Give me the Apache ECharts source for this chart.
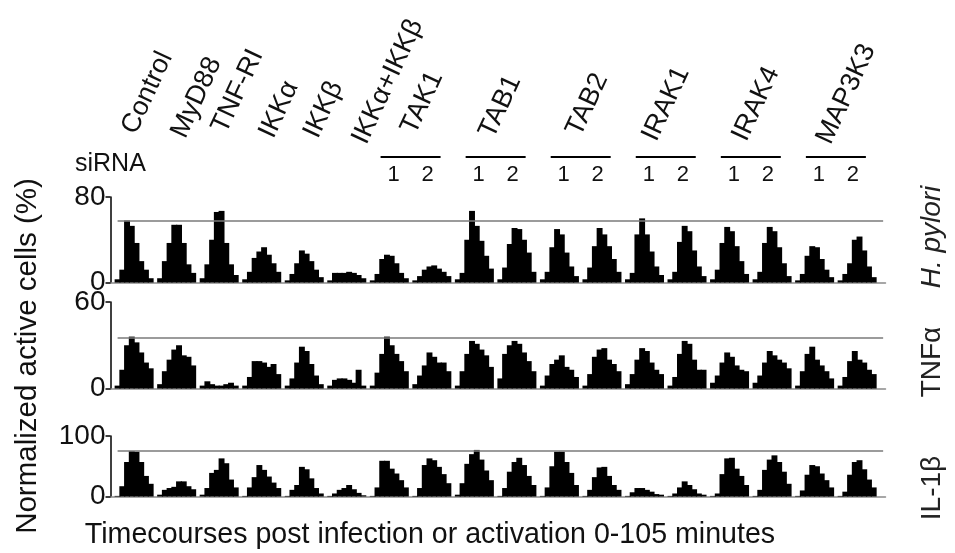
<!DOCTYPE html>
<html>
<head>
<meta charset="utf-8">
<script src="https://cdn.jsdelivr.net/npm/echarts@6/dist/echarts.min.js"></script>
<style>
  html, body { margin: 0; background: #fff; }
  #chart { width: 955px; height: 553px; }
</style>
</head>
<body>
<div id="chart"></div>
<script>
// siRNA conditions, left to right (kinases on the right have two oligos)
const groups = [
  'Control', 'MyD88', 'TNF-RI', 'IKKα', 'IKKβ', 'IKKα+IKKβ',
  'TAK1 1', 'TAK1 2', 'TAB1 1', 'TAB1 2', 'TAB2 1', 'TAB2 2',
  'IRAK1 1', 'IRAK1 2', 'IRAK4 1', 'IRAK4 2', 'MAP3K3 1', 'MAP3K3 2'
];
const singleLabels = ['Control', 'MyD88', 'TNF-RI', 'IKKα', 'IKKβ', 'IKKα+IKKβ'];
const pairLabels   = ['TAK1', 'TAB1', 'TAB2', 'IRAK1', 'IRAK4', 'MAP3K3'];
const oligoLabels  = ['1', '2'];

// stimuli (one row each), axis tops and the control reference level
const stimuli  = ['H. pylori', 'TNFα', 'IL-1β'];
const yTop     = [80, 60, 100];
const refLevel = [58, 35, 75];

// timecourse 0-105 min, 8 points per condition (% active cells)
const hPylori = [
  [3, 12, 58, 53, 37, 20, 12, 4],
  [4, 20, 37, 54, 54, 37, 17, 9],
  [4, 17, 40, 66, 67, 37, 17, 7],
  [3, 10, 23, 29, 33, 26, 18, 10],
  [2, 8, 18, 30, 27, 20, 12, 5],
  [2, 9, 9, 9, 10, 9, 7, 4],
  [2, 8, 22, 26, 25, 18, 9, 4],
  [2, 6, 12, 15, 16, 13, 10, 6],
  [3, 9, 40, 67, 53, 39, 25, 13],
  [3, 14, 36, 51, 50, 40, 28, 10],
  [3, 10, 33, 50, 45, 28, 15, 6],
  [3, 14, 34, 51, 45, 34, 22, 10],
  [3, 9, 45, 60, 45, 29, 15, 7],
  [3, 10, 38, 53, 48, 30, 15, 6],
  [3, 12, 37, 52, 48, 34, 20, 8],
  [3, 10, 37, 52, 48, 33, 18, 6],
  [2, 8, 25, 34, 33, 22, 12, 5],
  [2, 8, 18, 40, 43, 30, 15, 5]
];
const tnfAlpha = [
  [2, 13, 30, 36, 32, 25, 18, 14],
  [3, 12, 20, 27, 30, 23, 22, 16],
  [2, 5, 3, 2, 2, 3, 4, 2],
  [2, 8, 19, 19, 18, 15, 17, 10],
  [2, 7, 18, 29, 26, 17, 9, 3],
  [2, 6, 7, 7, 6, 4, 13, 2],
  [2, 11, 24, 36, 30, 24, 19, 12],
  [3, 9, 16, 25, 22, 18, 18, 12],
  [2, 12, 24, 33, 31, 27, 23, 15],
  [7, 24, 30, 33, 31, 25, 19, 12],
  [2, 9, 17, 20, 23, 15, 13, 8],
  [2, 10, 22, 27, 28, 20, 17, 12],
  [3, 10, 20, 28, 26, 18, 13, 10],
  [2, 8, 24, 33, 31, 20, 13, 13],
  [4, 9, 18, 25, 22, 16, 13, 12],
  [4, 9, 18, 26, 23, 20, 18, 14],
  [2, 12, 24, 29, 20, 16, 12, 7],
  [2, 8, 19, 26, 20, 18, 13, 10]
];
const il1Beta = [
  [1, 17, 57, 75, 74, 57, 34, 21],
  [3, 11, 14, 16, 25, 25, 17, 12],
  [3, 14, 39, 44, 63, 55, 28, 15],
  [1, 15, 32, 52, 44, 33, 23, 14],
  [1, 11, 19, 49, 45, 30, 14, 5],
  [1, 5, 11, 14, 19, 12, 6, 2],
  [1, 15, 59, 59, 46, 38, 27, 15],
  [1, 14, 52, 63, 60, 49, 37, 22],
  [3, 22, 54, 70, 77, 61, 43, 27],
  [1, 14, 41, 57, 64, 52, 34, 19],
  [1, 15, 50, 74, 74, 57, 39, 19],
  [1, 11, 32, 48, 49, 34, 19, 11],
  [1, 7, 14, 14, 11, 8, 4, 3],
  [1, 5, 15, 25, 19, 12, 5, 3],
  [1, 5, 37, 63, 64, 46, 34, 19],
  [1, 11, 44, 61, 68, 57, 41, 21],
  [1, 10, 36, 52, 50, 38, 27, 15],
  [1, 8, 36, 57, 60, 45, 28, 15]
];

// ── layout ──────────────────────────────────────────────
const FONT = "'Liberation Sans', Arial, sans-serif";
const INK = '#111';
const GRID_LEFT = 110.5;
const GRID_W = 775;
const PER_GROUP = 9;                     // one empty slot + 8 time points
const SLOTS = groups.length * PER_GROUP + 2;
const SLOT_W = GRID_W / SLOTS;
const rows = [
  { top: 197, height: 85.5 },
  { top: 302, height: 86.5 },
  { top: 436, height: 60.5 }
];
// offsets of the rotated gene names from their group centre
const labelNudge = [
  [7, 138], [14, 142], [12, 137], [17, 142], [19, 142], [25, 148],
  [10, 138], [3, 142], [5, 140], [-4, 145], [1, 145], [0, 148]
];

const slotNames = Array.from({ length: SLOTS }, (_, i) => String(i));
function flatten(rowData) {
  const out = [];
  rowData.forEach(ts => { out.push(null); ts.forEach(v => out.push(v)); });
  while (out.length < SLOTS) out.push(null);
  return out;
}
const rowData = [hPylori, tnfAlpha, il1Beta];

// pixel centre of a group, or of a pair of groups
const groupX = g => GRID_LEFT + (g * PER_GROUP + 5) * SLOT_W;
const pairX  = g => GRID_LEFT + (g * PER_GROUP + 9.5) * SLOT_W;

const graphic = [];
singleLabels.concat(pairLabels).forEach((name, i) => {
  const cx = i < singleLabels.length ? groupX(i) : pairX(singleLabels.length + (i - singleLabels.length) * 2);
  graphic.push({
    type: 'text', x: cx + labelNudge[i][0], y: labelNudge[i][1],
    rotation: 65 * Math.PI / 180,
    style: { text: name, font: `27px ${FONT}`, fill: INK, align: 'left', verticalAlign: 'bottom' }
  });
});
pairLabels.forEach((_, k) => {
  const cx = pairX(singleLabels.length + k * 2);
  graphic.push({
    type: 'line', shape: { x1: cx - 30, y1: 157, x2: cx + 30, y2: 157 },
    style: { stroke: '#000', lineWidth: 2 }
  });
  oligoLabels.forEach((d, j) => {
    graphic.push({
      type: 'text', x: cx + (j ? 17 : -17), y: 175,
      style: { text: d, font: `22px ${FONT}`, fill: INK, align: 'center', verticalAlign: 'middle' }
    });
  });
});
graphic.push({
  type: 'text', x: 75, y: 164,
  style: { text: 'siRNA', font: `25px ${FONT}`, fill: INK, align: 'left', verticalAlign: 'middle' }
});
graphic.push({
  type: 'text', x: 28, y: 356, rotation: Math.PI / 2,
  style: { text: 'Normalized active cells (%)', font: `29.5px ${FONT}`, fill: INK, align: 'center', verticalAlign: 'middle' }
});
graphic.push({
  type: 'text', x: 430, y: 535,
  style: { text: 'Timecourses post infection or activation 0-105 minutes', font: `28.6px ${FONT}`, fill: INK, align: 'center', verticalAlign: 'middle' }
});
const stimY = [237, 362, 488];
stimuli.forEach((s, i) => {
  graphic.push({
    type: 'text', x: 932, y: stimY[i], rotation: Math.PI / 2,
    style: { text: s, font: `${i === 0 ? 'italic ' : ''}28px ${FONT}`, fill: '#222', align: 'center', verticalAlign: 'middle' }
  });
});

const option = {
  animation: false,
  backgroundColor: '#fff',
  grid: rows.map(r => ({ left: GRID_LEFT, width: GRID_W, top: r.top, height: r.height, containLabel: false })),
  xAxis: rows.map((_, i) => ({
    type: 'category', gridIndex: i, data: slotNames, boundaryGap: true,
    axisLine: { show: true, lineStyle: { color: '#8a8a8a', width: 1.5 } },
    axisTick: { show: false }, axisLabel: { show: false }, splitLine: { show: false }
  })),
  yAxis: rows.map((_, i) => ({
    type: 'value', gridIndex: i, min: 0, max: yTop[i], interval: yTop[i],
    axisLine: { show: true, lineStyle: { color: '#000', width: 1.5 } },
    axisTick: { show: true, length: 5, lineStyle: { color: '#000', width: 1.5 } },
    axisLabel: { fontSize: 28, fontFamily: FONT, color: INK, margin: 5 },
    splitLine: { show: false }
  })),
  series: rowData.map((d, i) => ({
    name: stimuli[i], type: 'bar', xAxisIndex: i, yAxisIndex: i,
    data: flatten(d), barWidth: SLOT_W + 1.2,
    itemStyle: { color: '#000' },
    emphasis: { disabled: true },
    markLine: {
      silent: true, symbol: 'none', label: { show: false },
      lineStyle: { color: '#7a7a7a', width: 1.5, type: 'solid' },
      data: [[{ coord: [1, refLevel[i]] }, { coord: [SLOTS - 1, refLevel[i]] }]]
    }
  })),
  graphic: graphic
};

const chart = echarts.init(document.getElementById('chart'), null, { renderer: 'canvas' });
chart.setOption(option);
</script>
</body>
</html>
